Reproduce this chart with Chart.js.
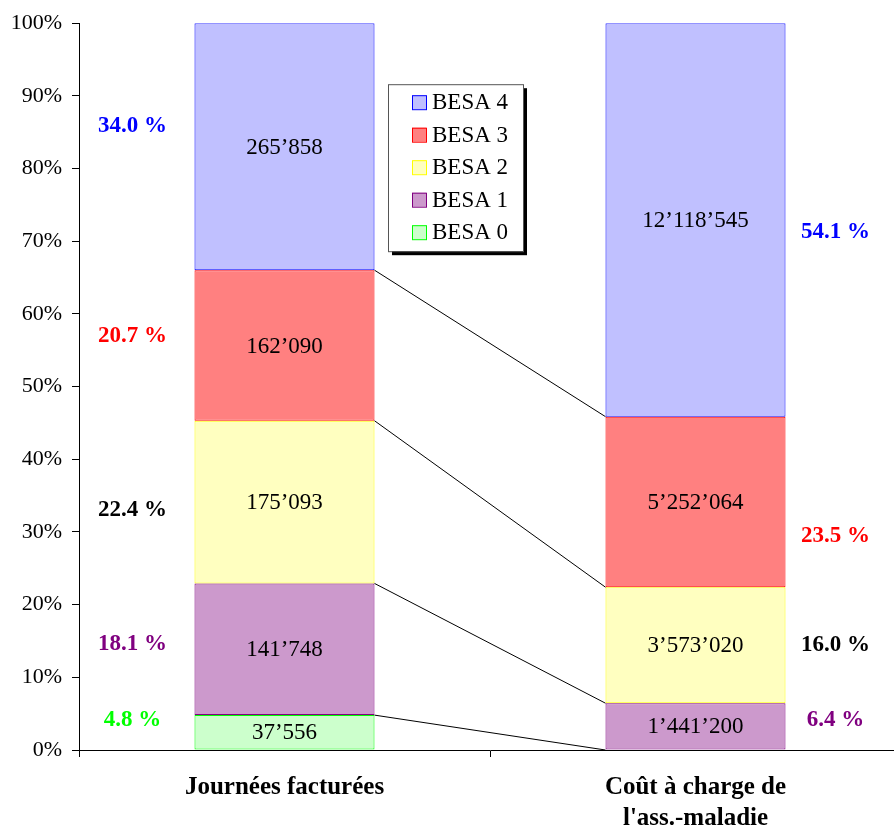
<!DOCTYPE html>
<html>
<head>
<meta charset="utf-8">
<script src="https://cdn.jsdelivr.net/npm/chart.js@4.4.1/dist/chart.umd.min.js"></script>
<style>
    html, body { margin: 0; padding: 0; background: #fff; overflow: hidden; }
    #besa-chart { display: block; }
</style>
</head>
<body>
<canvas id="besa-chart" width="902" height="827"></canvas>
<script>
// BESA levels: billed days vs. cost borne by health insurance

const categories = ['Journées facturées', ['Coût à charge de', "l'ass.-maladie"]];
const seriesNames = ['BESA 0', 'BESA 1', 'BESA 2', 'BESA 3', 'BESA 4'];

// raw figures per BESA level, [billed days, insurance cost]
const besa0 = [37556, 0];
const besa1 = [141748, 1441200];
const besa2 = [175093, 3573020];
const besa3 = [162090, 5252064];
const besa4 = [265858, 12118545];

const yTicks = [0, 10, 20, 30, 40, 50, 60, 70, 80, 90, 100];

const rawSeries = [besa0, besa1, besa2, besa3, besa4];
const totals = categories.map((_, c) => rawSeries.reduce((s, r) => s + r[c], 0));
const shareSeries = rawSeries.map(r => r.map((v, c) => v / totals[c] * 100));

const fillColors = ['#ccffcc', '#cc99cc', '#ffffc0', '#ff8080', '#c0c0ff'];
const edgeColors = ['#00ff00', '#800080', '#ffff00', '#ff0000', '#0000ff'];
const pctColors = ['#00ff00', '#800080', '#000000', '#ff0000', '#0000ff'];

const SERIF = '"Liberation Serif", "Times New Roman", serif';

function formatSwiss(n) {
    return String(n).replace(/\B(?=(\d{3})+(?!\d))/g, '\u2019');
}

// connector lines between the tops of matching segments
const seriesLines = {
    id: 'seriesLines',
    afterDatasetsDraw(chart) {
        const ctx = chart.ctx;
        ctx.save();
        ctx.strokeStyle = '#000';
        ctx.lineWidth = 1;
        for (let i = 0; i < chart.data.datasets.length - 1; i++) {
            const els = chart.getDatasetMeta(i).data;
            const a = els[0], b = els[1];
            ctx.beginPath();
            ctx.moveTo(a.x + a.width / 2, a.y);
            ctx.lineTo(b.x - b.width / 2, b.y);
            ctx.stroke();
        }
        ctx.restore();
    }
};

// raw values inside each segment, shares beside the bars
const segmentLabels = {
    id: 'segmentLabels',
    afterDatasetsDraw(chart, args, opts) {
        const ctx = chart.ctx;
        const yScale = chart.scales.y;
        ctx.save();
        ctx.textBaseline = 'middle';
        rawSeries.forEach((row, i) => {
            const els = chart.getDatasetMeta(i).data;
            row.forEach((v, c) => {
                if (!v) return;
                const el = els[c];
                ctx.font = '23px ' + SERIF;
                ctx.fillStyle = '#000';
                ctx.textAlign = 'center';
                ctx.fillText(formatSwiss(v), el.x, (el.y + el.base) / 2 + 1);

                const pct = (shareSeries[i][c]).toFixed(1) + ' %';
                const level = (c === 0 ? opts.left : opts.right)[i];
                const px = c === 0 ? el.x - el.width / 2 - 62 : el.x + el.width / 2 + 50;
                ctx.font = 'bold 23px ' + SERIF;
                ctx.fillStyle = pctColors[i];
                ctx.fillText(pct, px, yScale.getPixelForValue(level));
            });
        });
        ctx.restore();
    }
};

// framed legend with drop shadow, top series first
const boxLegend = {
    id: 'boxLegend',
    afterDraw(chart) {
        const ctx = chart.ctx;
        const area = chart.chartArea;
        const left = area.left + 309, top = area.top + 61;
        const w = 135, h = 167;
        ctx.save();
        ctx.fillStyle = '#000';
        ctx.fillRect(left + 4, top + 4, w, h);
        ctx.fillStyle = '#fff';
        ctx.fillRect(left, top, w, h);
        ctx.strokeStyle = '#555';
        ctx.lineWidth = 1;
        ctx.strokeRect(left + 0.5, top + 0.5, w, h);
        ctx.font = '23px ' + SERIF;
        ctx.textBaseline = 'middle';
        ctx.textAlign = 'left';
        const order = chart.data.datasets.map((d, i) => i).reverse();
        order.forEach((i, row) => {
            const ds = chart.data.datasets[i];
            const cy = top + 18 + row * 32.5;
            ctx.fillStyle = ds.backgroundColor;
            ctx.fillRect(left + 24, cy - 7, 14, 14);
            ctx.strokeStyle = ds.borderColor;
            ctx.strokeRect(left + 24.5, cy - 6.5, 14, 14);
            ctx.fillStyle = '#000';
            ctx.fillText(ds.label, left + 44, cy + 1);
        });
        ctx.restore();
    }
};

new Chart(document.getElementById('besa-chart'), {
    type: 'bar',
    data: {
        labels: categories,
        datasets: shareSeries.map((data, i) => ({
            label: seriesNames[i],
            data: data,
            backgroundColor: fillColors[i],
            borderColor: edgeColors[i],
            borderWidth: 1,
            borderSkipped: false,
            barPercentage: 0.438,
            categoryPercentage: 1
        }))
    },
    options: {
        responsive: false,
        animation: false,
        layout: { padding: { top: 22, right: 1, left: 0, bottom: 0 } },
        plugins: {
            legend: { display: false },
            tooltip: { enabled: false },
            segmentLabels: {
                left: [4.1, 14.6, 33.0, 56.9, 85.9],
                right: [0, 4.1, 14.4, 29.5, 71.3]
            }
        },
        scales: {
            x: {
                stacked: true,
                offset: true,
                grid: {
                    offset: true,
                    drawOnChartArea: false,
                    tickLength: 7,
                    tickColor: '#000'
                },
                border: { color: '#000', width: 1 },
                ticks: {
                    color: '#000',
                    padding: 15,
                    maxRotation: 0,
                    font: { family: SERIF, size: 25, weight: 'bold', lineHeight: 1.25 }
                },
                afterFit: scale => { scale.height = 77; }
            },
            y: {
                stacked: true,
                min: 0,
                max: 100,
                afterBuildTicks: scale => { scale.ticks = yTicks.map(v => ({ value: v })); },
                grid: {
                    drawOnChartArea: false,
                    tickLength: 7,
                    tickColor: '#000'
                },
                border: { color: '#000', width: 1 },
                ticks: {
                    color: '#000',
                    padding: 10,
                    font: { family: SERIF, size: 22 },
                    callback: v => v + '%'
                },
                afterFit: scale => { scale.width = 79; }
            }
        }
    },
    plugins: [seriesLines, segmentLabels, boxLegend]
});
</script>
</body>
</html>
